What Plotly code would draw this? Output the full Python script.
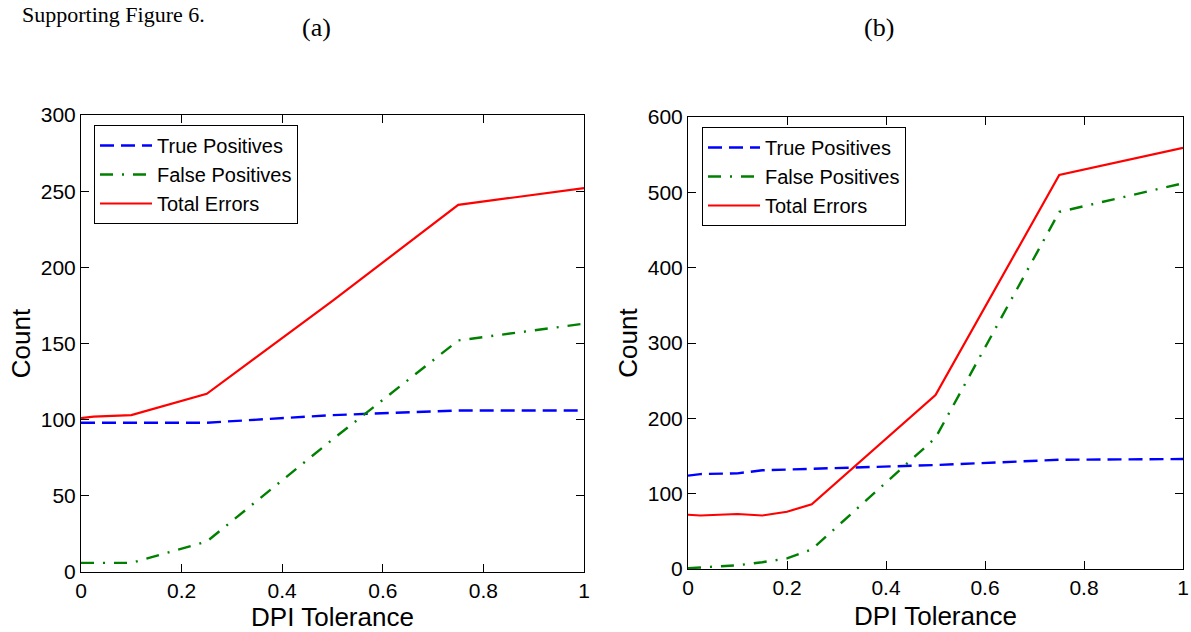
import plotly.graph_objects as go

# ---- data ----
x_a = [0, 0.025, 0.1, 0.25, 0.5, 0.75, 1.0]
tp_a = [98, 98, 98, 98, 103, 106, 106]
fp_a = [6, 6, 6, 20, 87, 152, 163]
te_a = [101, 102, 103, 117, 178, 241, 252]

x_b = [0, 0.025, 0.1, 0.15, 0.2, 0.25, 0.5, 0.75, 1.0]
tp_b = [124, 126, 127, 131, 132, 133, 138, 145, 146]
fp_b = [1, 2, 5, 9, 14, 26, 174, 474, 512]
te_b = [72, 71, 73, 71, 76, 86, 231, 523, 559]

series_names = ["True Positives", "False Positives", "Total Errors"]
x_ticks = [0, 0.2, 0.4, 0.6, 0.8, 1]
x_tick_text = ["0", "0.2", "0.4", "0.6", "0.8", "1"]
y_ticks_a = [0, 50, 100, 150, 200, 250, 300]
y_ticks_b = [0, 100, 200, 300, 400, 500, 600]

W, H = 1191, 632
FONT = "Liberation Sans, Arial, Helvetica, sans-serif"
SERIF = "Liberation Serif, DejaVu Serif, serif"

styles = [
    dict(color="#0000FF", width=2.4, dash="14px,7px"),
    dict(color="#008000", width=2.4, dash="13px,9px,2px,9px"),
    dict(color="#FF0000", width=2.2, dash="solid"),
]

fig = go.Figure()
for i, (ys, nm) in enumerate(zip([tp_a, fp_a, te_a], series_names)):
    fig.add_trace(go.Scatter(x=x_a, y=ys, mode="lines", name=nm, line=styles[i],
                             xaxis="x", yaxis="y", legend="legend"))
for i, (ys, nm) in enumerate(zip([tp_b, fp_b, te_b], series_names)):
    fig.add_trace(go.Scatter(x=x_b, y=ys, mode="lines", name=nm, line=styles[i],
                             xaxis="x2", yaxis="y2", legend="legend2"))


def px_x(p):
    return p / W


def px_y(p):
    return 1 - p / H


common_axis = dict(
    showline=True, linecolor="black", linewidth=1, mirror="ticks",
    ticks="inside", ticklen=8, tickcolor="black", tickwidth=1,
    showgrid=False, zeroline=False, automargin=False,
    tickfont=dict(family=FONT, size=21, color="black"),
)

legend_common = dict(xanchor="left", yanchor="top",
                     bordercolor="black", borderwidth=1, bgcolor="white",
                     font=dict(family=FONT, size=20, color="black"), tracegroupgap=0,
                     entrywidth=180, itemwidth=52)

fig.update_layout(
    template="none",
    width=W, height=H,
    margin=dict(l=0, r=0, t=0, b=0, autoexpand=False),
    paper_bgcolor="white", plot_bgcolor="white",
    font=dict(family=FONT, color="black"),
    xaxis=dict(domain=[px_x(81), px_x(584)], range=[0, 1], tickvals=x_ticks, ticktext=x_tick_text,
               anchor="y", title=dict(text="DPI Tolerance", font=dict(size=26), standoff=8), **common_axis),
    yaxis=dict(domain=[px_y(572), px_y(115)], range=[0, 300], tickvals=y_ticks_a,
               anchor="x", title=dict(text="Count", font=dict(size=26), standoff=2), **common_axis),
    xaxis2=dict(domain=[px_x(688), px_x(1183)], range=[0, 1], tickvals=x_ticks, ticktext=x_tick_text,
                anchor="y2", title=dict(text="DPI Tolerance", font=dict(size=26), standoff=8), **common_axis),
    yaxis2=dict(domain=[px_y(569), px_y(117)], range=[0, 600], tickvals=y_ticks_b,
                anchor="x2", title=dict(text="Count", font=dict(size=26), standoff=2), **common_axis),
    legend=dict(x=px_x(94), y=px_y(125), **legend_common),
    legend2=dict(x=px_x(702), y=px_y(127), **legend_common),
    showlegend=True,
)

fig.add_annotation(text="Supporting Figure 6.", xref="paper", yref="paper", x=px_x(20), y=1,
                   xanchor="left", yanchor="top", showarrow=False,
                   font=dict(family=SERIF, size=22, color="black"))
fig.add_annotation(text="(a)", xref="paper", yref="paper", x=px_x(316), y=px_y(27),
                   xanchor="center", yanchor="middle", showarrow=False,
                   font=dict(family=SERIF, size=26, color="black"))
fig.add_annotation(text="(b)", xref="paper", yref="paper", x=px_x(879), y=px_y(27),
                   xanchor="center", yanchor="middle", showarrow=False,
                   font=dict(family=SERIF, size=26, color="black"))

fig.write_html(
    "out.html",
    config={"displayModeBar": False},
    post_script="document.documentElement.style.margin='0';document.body.style.margin='0';"
                "document.documentElement.style.overflow='hidden';document.body.style.overflow='hidden';",
)
